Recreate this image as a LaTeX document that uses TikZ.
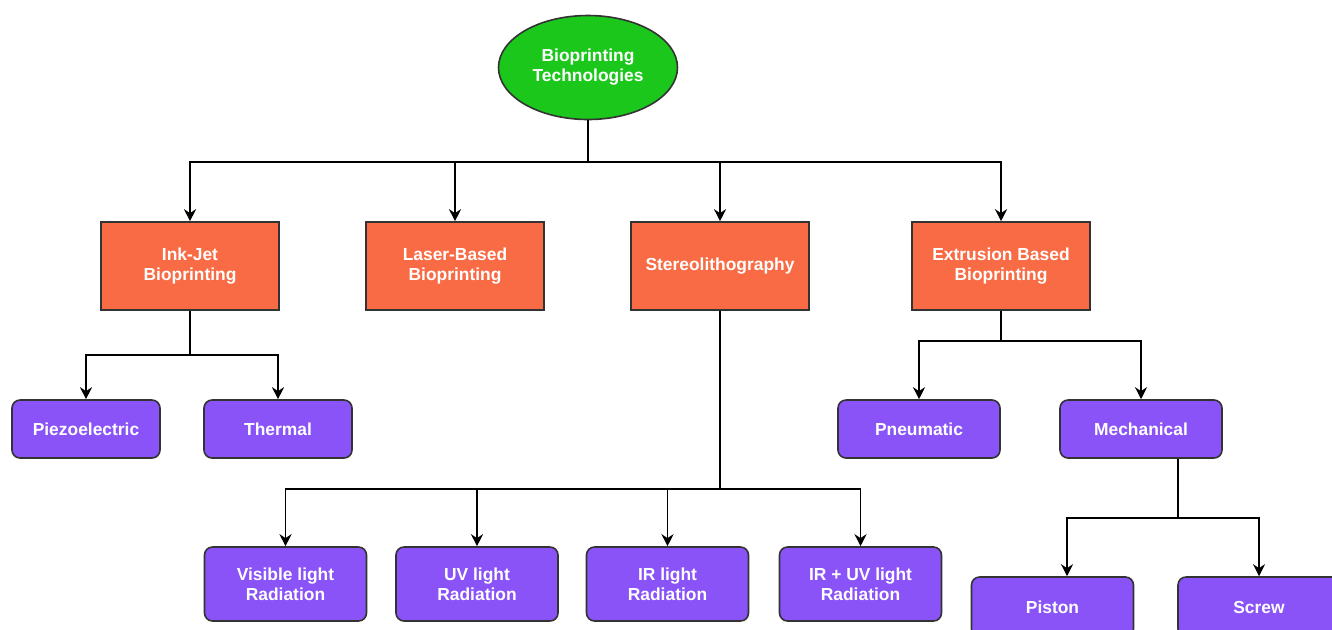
\documentclass[tikz,border=0pt]{standalone}
\usepackage{fontspec}
\setmainfont{Liberation Sans}
\usetikzlibrary{shapes.geometric,arrows.meta}

\definecolor{rootgreen}{HTML}{1CC71C}
\definecolor{techorange}{HTML}{F96B44}
\definecolor{subpurple}{HTML}{8953F7}

\tikzset{
  boxtext/.style={text=white, font=\bfseries\fontsize{8.7}{10}\selectfont, align=center, inner sep=0pt, draw=black!80},
  tech/.style={boxtext, fill=techorange, minimum width=89pt, minimum height=44pt},
  sub/.style={boxtext, fill=subpurple, rounded corners=4pt, minimum width=81pt, minimum height=29pt},
  ray/.style={sub, minimum height=37pt},
}

\begin{document}
\begin{tikzpicture}[>={Stealth[length=6pt,width=6pt]}, x=0.5pt, y=-0.5pt, line width=0.8pt]
\useasboundingbox (0,0) rectangle (1332,629);

\node[ellipse, boxtext, fill=rootgreen, minimum width=89.5pt, minimum height=52pt] (root) at (588,67.5) {Bioprinting\\Technologies};

% first level
\node[tech] (inkjet) at (190,266) {Ink-Jet\\Bioprinting};
\node[tech] (laser) at (455,266) {Laser-Based\\Bioprinting};
\node[tech] (stereo) at (720,266) {Stereolithography};
\node[tech] (extrusion) at (1001,266) {Extrusion Based\\Bioprinting};

% second level
\node[sub, minimum width=74pt] (piezo) at (86,429) {Piezoelectric};
\node[sub, minimum width=74pt] (thermal) at (278,429) {Thermal};
\node[sub] (pneumatic) at (919,429) {Pneumatic};
\node[sub] (mech) at (1141,429) {Mechanical};

\node[ray] (visible) at (285.5,584) {Visible light\\Radiation};
\node[ray] (uv) at (477,584) {UV light\\Radiation};
\node[ray] (ir) at (667.5,584) {IR light\\Radiation};
\node[ray] (iruv) at (860.5,584) {IR + UV light\\Radiation};

\node[sub, minimum height=30pt] (piston) at (1052.5,607) {Piston};
\node[sub, minimum height=30pt] (screw) at (1259,607) {Screw};

% connectors
\draw (root.south) -- (588,162) coordinate (rootsplit);
\foreach \t in {inkjet,laser,stereo,extrusion}
{
    \draw[->] (rootsplit) -| (\t.north);
}

\draw (inkjet.south) -- ++(0,44) coordinate (inkjetsplit);
\foreach \s in {piezo,thermal}
    \draw[->] (inkjetsplit) -| (\s.north);

\draw (stereo.south) -- ++(0,178) coordinate (stereosplit);
\foreach \s in {visible,uv,ir,iruv}
    \draw[->] (stereosplit) -| (\s.north);

\draw (extrusion.south) -- ++(0,30) coordinate (extrusionsplit);
\foreach \s in {pneumatic,mech}
    \draw[->] (extrusionsplit) -| (\s.north);

\draw ([xshift=18.5pt]mech.south) -- ++(0,59) coordinate (mechsplit);
\draw[->] (mechsplit) -| ([xshift=7.25pt]piston.north);
\draw[->] (mechsplit) -| (screw.north);
\end{tikzpicture}
\end{document}
